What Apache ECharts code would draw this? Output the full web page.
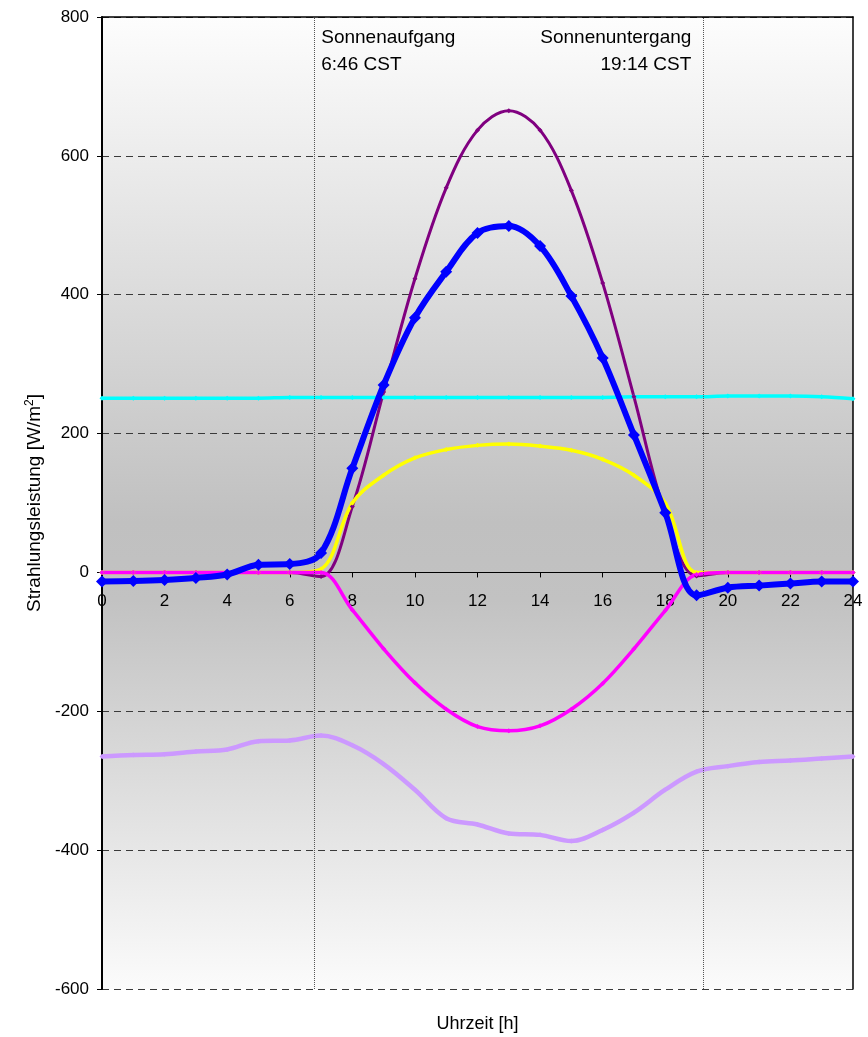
<!DOCTYPE html>
<html>
<head>
<meta charset="utf-8">
<script src="https://cdn.jsdelivr.net/npm/echarts@6/dist/echarts.min.js"></script>
<style>
  html, body { margin: 0; padding: 0; background: #fff; }
  #chart { width: 868px; height: 1037px; }
</style>
</head>
<body>
<div id="chart"></div>
<script>
// Tageslauf der Strahlungsleistung (Stundenwerte)
const hours = [0, 1, 2, 3, 4, 5, 6, 7, 8, 9, 10, 11, 12, 13, 14, 15, 16, 17, 18, 19, 20, 21, 22, 23, 24];

const netBlue = [-13, -12.5, -11, -8, -3, 11, 12, 28, 150, 270, 367, 433, 489, 499, 470, 398, 309, 198, 86, -33, -22, -19, -16, -13, -13];
const globalPurple = [0, 0, 0, 0, 0, 0, 0, -6, 95, 260, 423, 554, 637, 665, 637, 550, 417, 253, 85, -5, 0, 0, 0, 0, 0];
const diffuseYellow = [0, 0, 0, 0, 0, 0, 0, 5, 100, 140, 165, 177, 183, 185, 182, 176, 163, 140, 100, 0, 0, 0, 0, 0, 0];
const atmoCyan = [251, 251, 251, 251, 251, 251, 252, 252, 252, 252, 252, 252, 252, 252, 252, 252, 252, 253, 253, 253, 254, 254, 254, 253, 250];
const reflMagenta = [0, 0, 0, 0, 0, 0, 0, 0, -54, -110, -159, -197, -222, -228, -221, -197, -160, -110, -55, -3, 0, 0, 0, 0, 0];
const emitLilac = [-265, -263, -262, -258, -255, -243, -242, -235, -249, -276, -313, -354, -363, -376, -378, -387, -371, -346, -313, -287, -279, -273, -271, -268, -265];

const sunriseHour = 6 + 46 / 60;
const sunsetHour = 19 + 14 / 60;
const sunriseText = ['Sonnenaufgang', '6:46 CST'];
const sunsetText = ['Sonnenuntergang', '19:14 CST'];

const yTicks = { min: -600, max: 800, step: 200 };
const xTicks = { min: 0, max: 24, step: 2 };

const FONT = '"Liberation Sans", Arial, sans-serif';

const W = 868, H = 1037;
const gridBox = { left: 102, right: 15, top: 17, bottom: 48 };
const plotH = H - gridBox.top - gridBox.bottom;
// the hour axis sits on the zero line: shift it up from the bottom edge
const zeroOffset = -plotH * (0 - yTicks.min) / (yTicks.max - yTicks.min);

function pairs(vals) {
  return hours.map((h, i) => [h, vals[i]]);
}

function lineSeries(name, vals, color, width, symbolSize) {
  return {
    name: name,
    type: 'line',
    xAxisIndex: 0,
    yAxisIndex: 0,
    data: pairs(vals),
    smooth: 0.35,
    symbol: 'diamond',
    symbolSize: symbolSize,
    showSymbol: true,
    lineStyle: { color: color, width: width },
    itemStyle: { color: color },
    emphasis: { disabled: true },
    z: 3
  };
}

const chart = echarts.init(document.getElementById('chart'), null, { renderer: 'canvas' });

const bg = new echarts.graphic.LinearGradient(0, 0, 0, 1, [
  { offset: 0, color: '#fdfdfd' },
  { offset: 0.52, color: '#c0c0c0' },
  { offset: 0.6, color: '#c2c2c2' },
  { offset: 1, color: '#fbfbfb' }
]);

const option = {
  animation: false,
  backgroundColor: '#ffffff',
  textStyle: { fontFamily: FONT },
  grid: {
    left: gridBox.left, right: gridBox.right, top: gridBox.top, bottom: gridBox.bottom,
    containLabel: false,
    outerBoundsMode: 'none',
    show: true,
    backgroundColor: bg,
    borderWidth: 0
  },
  xAxis: [
    {
      type: 'value',
      position: 'bottom',
      offset: zeroOffset,
      min: xTicks.min, max: xTicks.max, interval: xTicks.step,
      axisLine: { onZero: false, lineStyle: { color: '#000', width: 1 } },
      axisTick: { show: true, length: 5, lineStyle: { color: '#000' } },
      axisLabel: { color: '#000', fontSize: 17, margin: 20, fontFamily: FONT },
      splitLine: { show: false }
    },
    {
      type: 'value',
      position: 'bottom',
      min: xTicks.min, max: xTicks.max,
      axisLine: { show: false, onZero: false },
      axisTick: { show: false },
      axisLabel: { show: false },
      splitLine: { show: false },
      name: 'Uhrzeit [h]',
      nameLocation: 'middle',
      nameGap: 26,
      nameTextStyle: { color: '#000', fontSize: 18, fontFamily: FONT }
    },
    {
      type: 'value',
      position: 'top',
      min: xTicks.min, max: xTicks.max,
      axisLine: { show: true, onZero: false, lineStyle: { color: '#000', width: 1.5 } },
      axisTick: { show: false },
      axisLabel: { show: false },
      splitLine: { show: false }
    }
  ],
  yAxis: [
    {
      type: 'value',
      min: yTicks.min, max: yTicks.max, interval: yTicks.step,
      axisLine: { show: true, onZero: false, lineStyle: { color: '#000', width: 2 } },
      axisTick: { show: true, length: 5, lineStyle: { color: '#000' } },
      axisLabel: { color: '#000', fontSize: 17, margin: 13, fontFamily: FONT },
      splitLine: { show: true, lineStyle: { color: '#3a3a3a', width: 1, type: [7, 5] } },
      name: 'Strahlungsleistung [W/m{sup|2}]',
      nameLocation: 'middle',
      nameGap: 56,
      nameRotate: 90,
      nameTextStyle: {
        color: '#000', fontSize: 19, fontFamily: FONT,
        rich: { sup: { fontSize: 12, verticalAlign: 'top', padding: [0, 0, 10, 0], fontFamily: FONT } }
      }
    },
    {
      type: 'value',
      position: 'right',
      min: yTicks.min, max: yTicks.max, interval: yTicks.step,
      axisLine: { show: true, onZero: false, lineStyle: { color: '#000', width: 1.5 } },
      axisTick: { show: false },
      axisLabel: { show: false },
      splitLine: { show: false }
    }
  ],
  series: [
    Object.assign(lineSeries('Atmosphärische Gegenstrahlung', atmoCyan, '#00ffff', 3.5, 5), {
      markLine: {
        silent: true,
        symbol: 'none',
        label: { show: false },
        lineStyle: { color: '#555', width: 1, type: [1, 1] },
        data: [{ xAxis: sunriseHour }, { xAxis: sunsetHour }]
      }
    }),
    lineSeries('Ausstrahlung', emitLilac, '#cc99ff', 4.5, 5),
    lineSeries('Globalstrahlung', globalPurple, '#800080', 3, 5),
    lineSeries('Diffuse Strahlung', diffuseYellow, '#ffff00', 3.5, 5),
    lineSeries('Reflektierte Strahlung', reflMagenta, '#ff00ff', 3.5, 5),
    Object.assign(lineSeries('Strahlungsbilanz', netBlue, '#0000ff', 6, 12), {
      z: 5,
      markPoint: {
        silent: true,
        symbol: 'rect',
        symbolSize: 1,
        itemStyle: { color: 'rgba(0,0,0,0)' },
        data: [
          {
            coord: [sunriseHour, yTicks.max],
            label: {
              show: true, formatter: sunriseText.join('\n'),
              position: [8, 8], align: 'left', verticalAlign: 'top',
              color: '#000', fontSize: 19, lineHeight: 27, fontFamily: FONT
            }
          },
          {
            coord: [sunsetHour, yTicks.max],
            label: {
              show: true, formatter: sunsetText.join('\n'),
              position: [-12, 8], align: 'right', verticalAlign: 'top',
              color: '#000', fontSize: 19, lineHeight: 27, fontFamily: FONT
            }
          }
        ]
      }
    })
  ]
};

chart.setOption(option);
</script>
</body>
</html>
